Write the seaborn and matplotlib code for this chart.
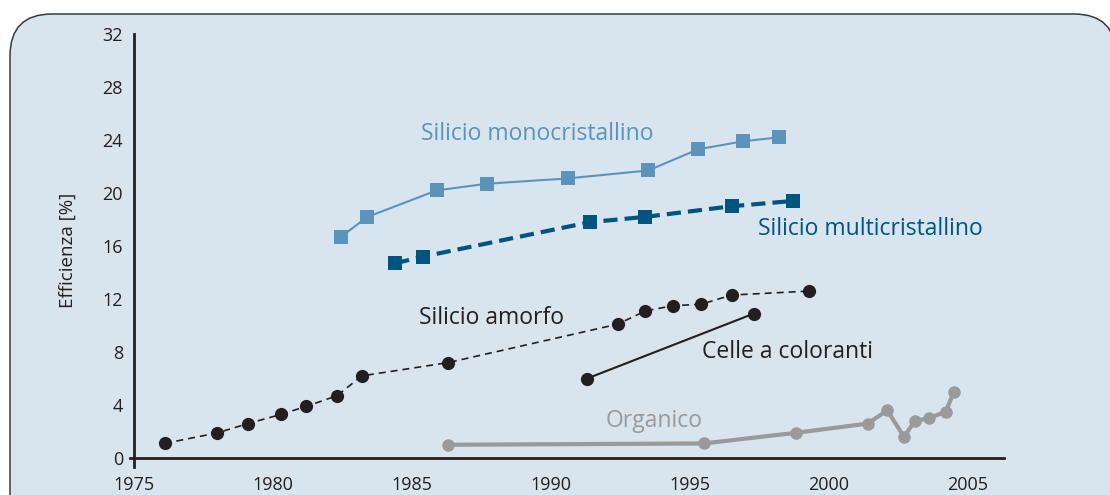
import matplotlib
matplotlib.use("Agg")
import matplotlib.pyplot as plt
from matplotlib.patches import FancyBboxPatch
import seaborn as sns
import pandas as pd

# ---- data ----
mono_year = [1982.45, 1983.4, 1985.9, 1987.7, 1990.6, 1993.5, 1995.3, 1996.9, 1998.2]
mono_eff = [16.7, 18.2, 20.2, 20.7, 21.1, 21.7, 23.3, 23.9, 24.2]

multi_year = [1984.4, 1985.4, 1991.4, 1993.4, 1996.5, 1998.7]
multi_eff = [14.7, 15.2, 17.8, 18.2, 19.0, 19.4]

amorfo_year = [1976.1, 1978.0, 1979.1, 1980.3, 1981.2, 1982.3, 1983.2, 1986.3,
               1992.4, 1993.4, 1994.4, 1995.4, 1996.5, 1999.3]
amorfo_eff = [1.1, 1.9, 2.6, 3.3, 3.9, 4.7, 6.2, 7.2, 10.1, 11.1, 11.5, 11.6, 12.3, 12.6]

celle_year = [1991.3, 1997.3]
celle_eff = [6.0, 10.9]

org_year = [1986.3, 1995.5, 1998.8, 2001.4, 2002.1, 2002.7, 2003.1, 2003.6, 2004.2, 2004.5]
org_eff = [1.0, 1.1, 1.9, 2.6, 3.6, 1.6, 2.8, 3.0, 3.5, 5.0]

x_ticks = [1975, 1980, 1985, 1990, 1995, 2000, 2005]
y_ticks = [0, 4, 8, 12, 16, 20, 24, 28, 32]
y_label = "Efficienza [%]"

labels = {
    "mono": "Silicio monocristallino",
    "multi": "Silicio multicristallino",
    "amorfo": "Silicio amorfo",
    "celle": "Celle a coloranti",
    "org": "Organico",
}

# ---- style ----
sns.set_style("white")
plt.rcParams["font.family"] = ["Open Sans", "DejaVu Sans"]

C_MONO = "#5b94bb"
C_MULTI = "#005580"
C_BLACK = "#231f20"
C_GREY = "#9a9a9a"
C_BG = "#d8e4ee"

W, H = 1110, 495
fig = plt.figure(figsize=(W / 100, H / 100), dpi=100)
fig.patch.set_facecolor("white")

# background rounded panel
bg = fig.add_axes([0, 0, 1, 1])
bg.set_xlim(0, W)
bg.set_ylim(H, 0)
bg.axis("off")
bg.add_patch(FancyBboxPatch((10, 14), 1106, 600,
                            boxstyle="round,pad=0,rounding_size=42",
                            facecolor=C_BG, edgecolor="#3a3a3a", linewidth=1.1))

# main axes
x0, x1 = 1975, 2006.3
ylo, yhi = -0.7, 32
left_px, right_px = 134, 1004
top_px, bot_px = 34, 467.3
ax = fig.add_axes([left_px / W, (H - bot_px) / H, (right_px - left_px) / W, (bot_px - top_px) / H])
ax.set_facecolor("none")

def draw(xs, ys, color, marker, ms, lw, ls):
    df = pd.DataFrame({"x": xs, "y": ys})
    sns.lineplot(data=df, x="x", y="y", ax=ax, color=color, marker=marker,
                 markersize=ms, linewidth=lw, linestyle=ls, markeredgewidth=0,
                 sort=False, estimator=None, legend=False)

draw(org_year, org_eff, C_GREY, "o", 9, 3.0, "-")
draw(celle_year, celle_eff, C_BLACK, "o", 9.5, 1.5, "-")
draw(amorfo_year, amorfo_eff, C_BLACK, "o", 9.5, 1.2, (0, (4.2, 3)))
draw(multi_year, multi_eff, C_MULTI, "s", 9.8, 3.0, (0, (3.4, 1.7)))
draw(mono_year, mono_eff, C_MONO, "s", 9.8, 1.5, "-")

ax.set_xlim(x0, x1)
ax.set_ylim(ylo, yhi)

for s in ["top", "right"]:
    ax.spines[s].set_visible(False)
ax.spines["bottom"].set_position(("data", 0))
ax.spines["bottom"].set_bounds(x0 - 0.15, x1)
ax.spines["left"].set_bounds(ylo, yhi)
for s in ["bottom", "left"]:
    ax.spines[s].set_color(C_BLACK)
    ax.spines[s].set_linewidth(2.0)

ax.set_xticks(x_ticks)
ax.set_xticklabels([str(t) for t in x_ticks])
ax.set_yticks(y_ticks)
ax.set_yticklabels([str(t) for t in y_ticks])
ax.tick_params(axis="x", direction="in", length=6, width=1.6, color=C_BLACK,
               labelsize=13, labelcolor=C_BLACK, pad=13)
ax.tick_params(axis="y", direction="out", length=5, width=1.6, color=C_BLACK,
               labelsize=13, labelcolor=C_BLACK, pad=3)
ax.set_xlabel("")
ax.set_ylabel(y_label, fontsize=13.5, color=C_BLACK)
ax.yaxis.set_label_coords(-0.0655, 0.5)

fs = 16.5
ax.text(1989.5, 24.45, labels["mono"], color=C_MONO, fontsize=fs, ha="center", va="center")
ax.text(2001.5, 17.3, labels["multi"], color=C_MULTI, fontsize=fs, ha="center", va="center")
ax.text(1987.85, 10.6, labels["amorfo"], color=C_BLACK, fontsize=fs, ha="center", va="center")
ax.text(1998.5, 8.0, labels["celle"], color=C_BLACK, fontsize=fs, ha="center", va="center")
ax.text(1993.7, 2.8, labels["org"], color=C_GREY, fontsize=fs, ha="center", va="center")

fig.savefig("out.png", dpi=100, facecolor="white")
